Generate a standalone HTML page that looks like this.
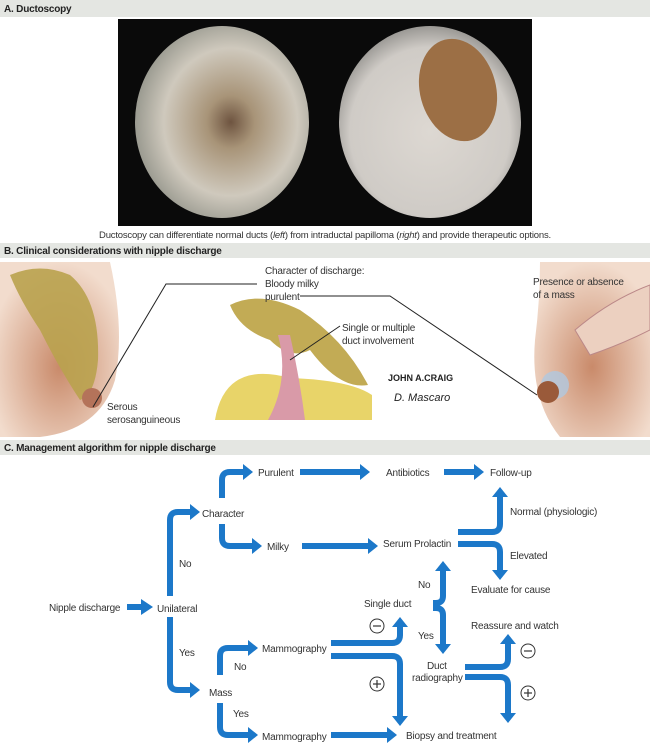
<!DOCTYPE html>
<html><head><meta charset="utf-8"><style>
html,body{margin:0;padding:0;background:#fff}
svg{display:block}
text{font-family:"Liberation Sans",sans-serif;fill:#333}
.t{font-size:10px;letter-spacing:-0.2px}
.h{font-size:10px;font-weight:bold;fill:#222;letter-spacing:-0.2px}
.a{fill:none;stroke:#1c78c9;stroke-width:6}
.hd{fill:#1c78c9}
</style></head><body>
<svg width="650" height="747" viewBox="0 0 650 747" xmlns="http://www.w3.org/2000/svg">
<defs>
<radialGradient id="e1" cx="0.55" cy="0.5" r="0.55"><stop offset="0" stop-color="#6e5440"/><stop offset="0.25" stop-color="#a89478"/><stop offset="0.7" stop-color="#cfc9bd"/><stop offset="1" stop-color="#9a9a90"/></radialGradient>
<radialGradient id="e2" cx="0.5" cy="0.55" r="0.55"><stop offset="0" stop-color="#ddd8d2"/><stop offset="0.8" stop-color="#cfcbc6"/><stop offset="1" stop-color="#9a9894"/></radialGradient>
<radialGradient id="sk" cx="0.5" cy="0.6" r="0.6"><stop offset="0" stop-color="#c98a6a"/><stop offset="1" stop-color="#f2dccd"/></radialGradient>
</defs>
<!-- A -->
<rect x="0" y="0" width="650" height="17" fill="#e4e6e2"/>
<text class="h" x="4" y="12">A. Ductoscopy</text>
<rect x="118" y="19" width="414" height="207" fill="#0a0a0a"/>
<ellipse cx="222" cy="122" rx="87" ry="96" fill="url(#e1)"/>
<ellipse cx="430" cy="122" rx="91" ry="96" fill="url(#e2)"/>
<ellipse cx="458" cy="90" rx="38" ry="52" transform="rotate(-15 458 90)" fill="#9c6f45"/>
<text x="325" y="238" text-anchor="middle" style="font-size:9.5px;letter-spacing:-0.2px">Ductoscopy can differentiate normal ducts (<tspan font-style="italic">left</tspan>) from intraductal papilloma (<tspan font-style="italic">right</tspan>) and provide therapeutic options.</text>
<!-- B -->
<rect x="0" y="243" width="650" height="15" fill="#e4e6e2"/>
<text class="h" x="4" y="254">B. Clinical considerations with nipple discharge</text>
<path d="M0,262 H110 Q125,330 115,380 Q100,430 40,437 H0 Z" fill="url(#sk)"/>
<path d="M10,275 Q40,262 70,275 Q100,300 98,360 Q95,395 80,400 Q60,370 40,330 Q20,300 10,275Z" fill="#b9a24e" opacity="0.9"/>
<circle cx="92" cy="398" r="10" fill="#b4735a"/>
<path d="M215,420 Q225,360 290,378 Q350,380 372,395 V420 Z" fill="#e8d469"/>
<path d="M230,305 Q260,290 300,310 Q345,340 368,385 Q340,390 310,350 Q290,360 270,340 Q240,330 230,305Z" fill="#c2ab55"/>
<path d="M278,335 Q290,380 268,420 H305 Q300,380 290,335Z" fill="#d99aa8"/>
<path d="M540,262 H650 V437 H560 Q530,400 535,340 Q540,300 540,262Z" fill="url(#sk)"/>
<path d="M575,330 Q610,300 650,285 V330 Q620,345 590,355Z" fill="#ecd0c0" stroke="#b88"/>
<circle cx="555" cy="385" r="14" fill="#b0c8e0" opacity="0.8"/>
<circle cx="548" cy="392" r="11" fill="#9a5a3a"/>
<polyline points="257,284 166,284 93,407" fill="none" stroke="#222" stroke-width="1"/>
<polyline points="300,296 390,296 537,395" fill="none" stroke="#222" stroke-width="1"/>
<line x1="340" y1="326" x2="290" y2="360" stroke="#222" stroke-width="1"/>
<text class="t" x="265" y="274">Character of discharge:</text>
<text class="t" x="265" y="287">Bloody milky</text>
<text class="t" x="265" y="300">purulent</text>
<text class="t" x="533" y="285">Presence or absence</text>
<text class="t" x="533" y="298">of a mass</text>
<text class="t" x="342" y="331">Single or multiple</text>
<text class="t" x="342" y="344">duct involvement</text>
<text class="t" x="107" y="410">Serous</text>
<text class="t" x="107" y="423">serosanguineous</text>
<text x="388" y="381" style="font-size:9px;font-weight:bold;fill:#222">JOHN A.CRAIG</text>
<text x="394" y="401" style="font-size:11px;font-style:italic;fill:#222">D. Mascaro</text>
<!-- C -->
<rect x="0" y="440" width="650" height="15" fill="#e4e6e2"/>
<text class="h" x="4" y="451">C. Management algorithm for nipple discharge</text>
<g>
<path class="a" d="M127,607 H141"/><polygon class="hd" points="141,599 153,607 141,615"/>
<path class="a" d="M170,596 V520 Q170,512 178,512 H190"/><polygon class="hd" points="190,504 200,512 190,520"/>
<path class="a" d="M170,617 V682 Q170,690 178,690 H190"/><polygon class="hd" points="190,682 200,690 190,698"/>
<path class="a" d="M222,498 V480 Q222,472 230,472 H243"/><polygon class="hd" points="243,464 253,472 243,480"/>
<path class="a" d="M222,524 V538 Q222,546 230,546 H252"/><polygon class="hd" points="252,538 262,546 252,554"/>
<path class="a" d="M300,472 H360"/><polygon class="hd" points="360,464 370,472 360,480"/>
<path class="a" d="M444,472 H474"/><polygon class="hd" points="474,464 484,472 474,480"/>
<path class="a" d="M302,546 H368"/><polygon class="hd" points="368,538 378,546 368,554"/>
<path class="a" d="M458,532 H492 Q500,532 500,524 V497"/><polygon class="hd" points="492,497 500,487 508,497"/>
<path class="a" d="M458,544 H492 Q500,544 500,552 V570"/><polygon class="hd" points="492,570 500,580 508,570"/>
<path class="a" d="M433,603 H436 Q443,603 443,596 V571"/><polygon class="hd" points="435,571 443,561 451,571"/>
<path class="a" d="M433,608 H436 Q443,608 443,615 V644"/><polygon class="hd" points="435,644 443,654 451,644"/>
<path class="a" d="M220,675 V656 Q220,648 228,648 H248"/><polygon class="hd" points="248,640 258,648 248,656"/>
<path class="a" d="M220,703 V727 Q220,735 228,735 H248"/><polygon class="hd" points="248,727 258,735 248,743"/>
<path class="a" d="M331,643 H392 Q400,643 400,635 V627"/><polygon class="hd" points="392,627 400,617 408,627"/>
<path class="a" d="M331,656 H392 Q400,656 400,664 V716"/><polygon class="hd" points="392,716 400,726 408,716"/>
<path class="a" d="M331,735 H387"/><polygon class="hd" points="387,727 397,735 387,743"/>
<path class="a" d="M465,667 H500 Q508,667 508,659 V644"/><polygon class="hd" points="500,644 508,634 516,644"/>
<path class="a" d="M465,677 H500 Q508,677 508,685 V713"/><polygon class="hd" points="500,713 508,723 516,713"/>
</g>
<g fill="none" stroke="#333" stroke-width="1">
<circle cx="377" cy="626" r="7"/><circle cx="377" cy="684" r="7"/>
<circle cx="528" cy="651" r="7"/><circle cx="528" cy="693" r="7"/>
</g>
<g stroke="#333" stroke-width="1.2">
<line x1="373" y1="626" x2="381" y2="626"/>
<line x1="373" y1="684" x2="381" y2="684"/><line x1="377" y1="680" x2="377" y2="688"/>
<line x1="524" y1="651" x2="532" y2="651"/>
<line x1="524" y1="693" x2="532" y2="693"/><line x1="528" y1="689" x2="528" y2="697"/>
</g>
<g>
<text class="t" x="258" y="476">Purulent</text>
<text class="t" x="386" y="476">Antibiotics</text>
<text class="t" x="490" y="476">Follow-up</text>
<text class="t" x="202" y="517">Character</text>
<text class="t" x="510" y="515">Normal (physiologic)</text>
<text class="t" x="267" y="550">Milky</text>
<text class="t" x="383" y="547">Serum Prolactin</text>
<text class="t" x="510" y="559">Elevated</text>
<text class="t" x="179" y="567">No</text>
<text class="t" x="418" y="588">No</text>
<text class="t" x="471" y="593">Evaluate for cause</text>
<text class="t" x="364" y="607">Single duct</text>
<text class="t" x="49" y="611">Nipple discharge</text>
<text class="t" x="157" y="612">Unilateral</text>
<text class="t" x="471" y="629">Reassure and watch</text>
<text class="t" x="418" y="639">Yes</text>
<text class="t" x="179" y="656">Yes</text>
<text class="t" x="262" y="652">Mammography</text>
<text class="t" x="427" y="669">Duct</text>
<text class="t" x="412" y="681">radiography</text>
<text class="t" x="234" y="670">No</text>
<text class="t" x="209" y="696">Mass</text>
<text class="t" x="233" y="717">Yes</text>
<text class="t" x="262" y="740">Mammography</text>
<text class="t" x="406" y="739">Biopsy and treatment</text>
</g>
</svg>
</body></html>
